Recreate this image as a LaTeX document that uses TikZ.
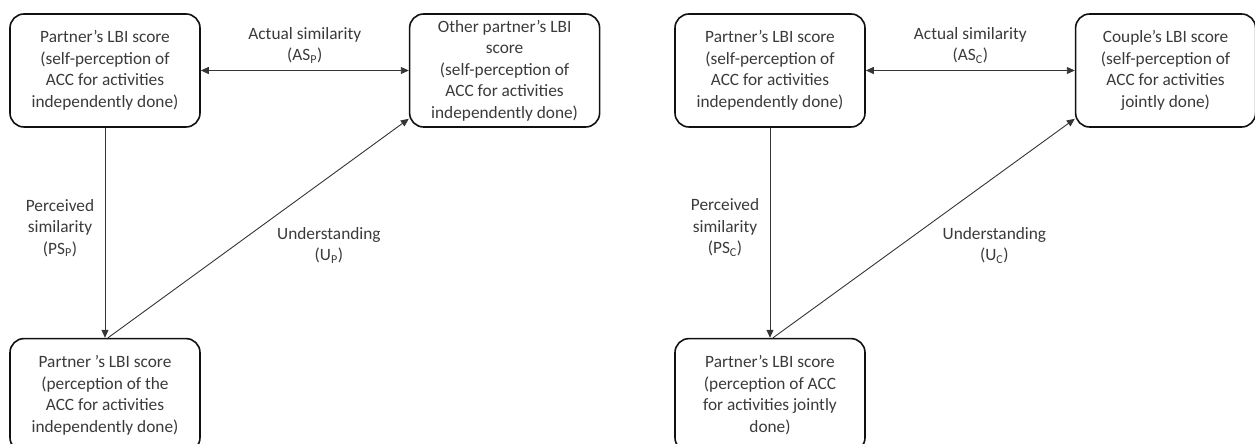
\documentclass[tikz,border=0pt]{standalone}
\usepackage{fontspec}
\setmainfont{Carlito}
\usepackage{tikz}
\usetikzlibrary{positioning,calc,arrows.meta}
\definecolor{ink}    {HTML}{111111}
\definecolor{softink}{HTML}{3A3A3A}
\tikzset{
  >={Triangle[length=8pt,width=7pt]},
  every node/.style={font=\fontsize{17.3}{21.5}\selectfont, text=softink},
  % --- nodes
  score/.style = {draw=ink, line width=1.6pt, rounded corners=14pt, align=center,
                  minimum width=190pt, minimum height=113pt, inner sep=0pt},
  lbl/.style   = {align=center, inner sep=0pt},
  % --- edges
  link/.style  = {->, line width=0.9pt, draw=ink!85},
  both/.style  = {<->, line width=0.9pt, draw=ink!85},
}

\begin{document}
\begin{tikzpicture}[x=1pt,y=1pt]
  \useasboundingbox (0,0) rectangle (1255,444);
  % --- left: the partner's own view
  \node[score] (selfP) at (105,373.5)
    {Partner’s LBI score\\(self-perception of\\ACC for activities\\independently done)};
  \node[score, right=208pt of selfP] (otherP)
    {Other partner’s LBI\\score\\(self-perception of\\ACC for activities\\independently done)};
  \node[score, below=210pt of selfP] (percP)
    {Partner ’s LBI score\\(perception of the\\ACC for activities\\independently done)};
  \draw[both] (selfP.east) -- (otherP.west);
  \draw[link] (selfP.south) -- (percP.north);
  \draw[link] ($(percP.north)+(3,0)$) -- ($(otherP.south west)+(0,9)$);
  \node[lbl] (asP) at ($(selfP.east)!0.5!(otherP.west)+(0,25)$)
    {Actual similarity\\(AS\textsubscript{P})};
  \node[lbl] (psP) at ($(selfP.south)!0.5!(percP.north)+(-45,5)$)
    {Perceived\\similarity\\(PS\textsubscript{P})};
  \node[lbl] (uP) at ($(percP.north)!0.5!(otherP.south west)+(72,-12.5)$)
    {Understanding\\(U\textsubscript{P})};
  % --- right: the couple
  \node[score] (selfC) at (770,373.5)
    {Partner’s LBI score\\(self-perception of\\ACC for activities\\independently done)};
  \node[score, minimum width=180pt, right=209pt of selfC] (coupleC)
    {Couple’s LBI score\\(self-perception of\\ACC for activities\\jointly done)};
  \node[score, below=210pt of selfC] (percC)
    {Partner’s LBI score\\(perception of ACC\\for activities jointly\\done)};
  \draw[both] (selfC.east) -- (coupleC.west);
  \draw[link] (selfC.south) -- (percC.north);
  \draw[link] ($(percC.north)+(3,0)$) -- ($(coupleC.south west)+(0,9)$);
  \node[lbl] (asC) at ($(selfC.east)!0.5!(coupleC.west)+(0,25)$)
    {Actual similarity\\(AS\textsubscript{C})};
  \node[lbl] (psC) at ($(selfC.south)!0.5!(percC.north)+(-45,5)$)
    {Perceived\\similarity\\(PS\textsubscript{C})};
  \node[lbl] (uC) at ($(percC.north)!0.5!(coupleC.south west)+(72,-12.5)$)
    {Understanding\\(U\textsubscript{C})};
\end{tikzpicture}
\end{document}
